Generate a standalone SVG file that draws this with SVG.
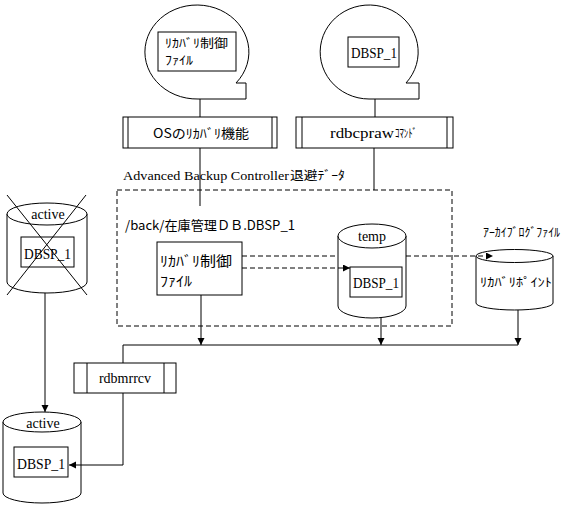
<svg xmlns="http://www.w3.org/2000/svg" width="565" height="507" viewBox="0 0 565 507">
<defs>
<marker id="ah" markerWidth="8" markerHeight="8" refX="7" refY="3.5" orient="auto" markerUnits="userSpaceOnUse">
<path d="M0,0 L7,3.5 L0,7 Z" fill="#000"/>
</marker>
</defs>
<style>
.s{fill:#fff;stroke:#000;stroke-width:1}
.l{fill:none;stroke:#000;stroke-width:1}
.d{fill:none;stroke:#000;stroke-width:1;stroke-dasharray:5,3}
.t{font-family:"Liberation Serif","Noto Sans CJK JP",serif;font-size:14px;fill:#000}
.j{font-family:"Noto Sans CJK JP","Liberation Sans",sans-serif;font-size:13px;fill:#000}
.c{text-anchor:middle}
</style>
<rect width="565" height="507" fill="#fff"/>

<g id="bubble1">
<path class="s" d="M198,99 A52,47 0 1 1 236,83 L246,83 L246,99 Z"/>
<rect class="s" x="158" y="32" width="78" height="39"/>
<text class="j" x="165" y="48" style="font-size:12px" textLength="63" lengthAdjust="spacingAndGlyphs">ﾘｶﾊﾞﾘ制御</text>
<text class="j" x="165" y="65" style="font-size:12px" textLength="28" lengthAdjust="spacingAndGlyphs">ﾌｧｲﾙ</text>
</g>

<g id="bubble2">
<path class="s" d="M369,99 A49,47 0 1 1 406,83 L419,83 L419,99 Z"/>
<rect class="s" x="348" y="37" width="51" height="30"/>
<text class="t" x="351" y="58" textLength="46" lengthAdjust="spacingAndGlyphs">DBSP_1</text>
</g>

<g id="os-recovery">
<rect class="s" x="123" y="117" width="154" height="31"/>
<line class="l" x1="128" y1="117" x2="128" y2="148"/>
<line class="l" x1="272" y1="117" x2="272" y2="148"/>
<text class="j" x="153" y="138" textLength="96" lengthAdjust="spacingAndGlyphs">OSのﾘｶﾊﾞﾘ機能</text>
</g>

<g id="rdbcpraw">
<rect class="s" x="296" y="117" width="157" height="31"/>
<line class="l" x1="302" y1="117" x2="302" y2="148"/>
<line class="l" x1="447" y1="117" x2="447" y2="148"/>
<text class="t" x="330" y="138" textLength="64" lengthAdjust="spacingAndGlyphs">rdbcpraw</text>
<text class="j" x="395" y="138" style="font-size:12px" textLength="22" lengthAdjust="spacingAndGlyphs">ｺﾏﾝﾄﾞ</text>
</g>

<g id="abc-area">
<rect class="d" x="117" y="190" width="335" height="136"/>
<text class="t" x="123" y="180" style="font-size:13px" textLength="166" lengthAdjust="spacingAndGlyphs">Advanced Backup Controller</text>
<text class="j" x="290" y="180" style="font-size:12px" textLength="55" lengthAdjust="spacingAndGlyphs">退避ﾃﾞｰﾀ</text>
<text class="j" x="125" y="230" textLength="170" lengthAdjust="spacingAndGlyphs">/back/在庫管理ＤＢ.DBSP_1</text>
</g>

<g id="control-file">
<rect class="s" x="157" y="242" width="85" height="53"/>
<text class="j" x="160" y="266" style="font-size:14px" textLength="72" lengthAdjust="spacingAndGlyphs">ﾘｶﾊﾞﾘ制御</text>
<text class="j" x="160" y="286" style="font-size:14px" textLength="32" lengthAdjust="spacingAndGlyphs">ﾌｧｲﾙ</text>
</g>

<g id="temp">
<path class="s" d="M338,236 L338,306 A34,12 0 0 0 406,306 L406,236"/>
<ellipse class="s" cx="372" cy="236" rx="34" ry="12"/>
<text class="t c" x="372" y="241">temp</text>
<rect class="s" x="350" y="267" width="52" height="30"/>
<text class="t" x="353" y="288" textLength="46" lengthAdjust="spacingAndGlyphs">DBSP_1</text>
</g>

<g id="archive-log">
<text class="j" x="483" y="237" style="font-size:12px" textLength="77" lengthAdjust="spacingAndGlyphs">ｱｰｶｲﾌﾞﾛｸﾞﾌｧｲﾙ</text>
<path class="s" d="M476,256 L476,303 A38.5,7 0 0 0 553,303 L553,256"/>
<ellipse class="s" cx="514.5" cy="256" rx="38.5" ry="6.5"/>
<text class="j" x="480" y="287" style="font-size:12px" textLength="72" lengthAdjust="spacingAndGlyphs">ﾘｶﾊﾞﾘﾎﾟｲﾝﾄ</text>
</g>

<g id="active-old">
<path class="s" d="M7,214 L7,282 A40,11 0 0 0 87,282 L87,214"/>
<ellipse class="s" cx="47" cy="214" rx="40" ry="11"/>
<text class="t c" x="48" y="219">active</text>
<rect class="s" x="21" y="237" width="53" height="30"/>
<text class="t" x="24" y="259" textLength="47" lengthAdjust="spacingAndGlyphs">DBSP_1</text>
<line class="l" x1="7" y1="195" x2="87" y2="295"/>
<line class="l" x1="86" y1="195" x2="7" y2="295"/>
</g>

<g id="rdbmrrcv">
<rect class="s" x="74" y="363" width="102" height="30"/>
<line class="l" x1="87" y1="363" x2="87" y2="393"/>
<line class="l" x1="164" y1="363" x2="164" y2="393"/>
<text class="t c" x="125" y="383">rdbmrrcv</text>
</g>

<g id="active-new">
<path class="s" d="M3,422 L3,493 A39,10 0 0 0 81,493 L81,422"/>
<ellipse class="s" cx="42" cy="422" rx="39" ry="10"/>
<text class="t c" x="43" y="428">active</text>
<rect class="s" x="14" y="447" width="54" height="30"/>
<text class="t" x="17" y="469" textLength="48" lengthAdjust="spacingAndGlyphs">DBSP_1</text>
</g>

<g id="connectors">
<line class="l" x1="200" y1="99" x2="200" y2="117"/>
<line class="l" x1="375" y1="99" x2="375" y2="117"/>
<line class="l" x1="200" y1="148" x2="200" y2="206"/>
<line class="l" x1="374" y1="148" x2="374" y2="190"/>
<line class="l" x1="201" y1="295" x2="201" y2="345" marker-end="url(#ah)"/>
<line class="l" x1="381" y1="318" x2="381" y2="345" marker-end="url(#ah)"/>
<line class="l" x1="518" y1="310" x2="518" y2="345" marker-end="url(#ah)"/>
<line class="l" x1="123" y1="345" x2="518" y2="345"/>
<line class="l" x1="123" y1="345" x2="123" y2="363"/>
<polyline class="l" points="123,393 123,465 69,465" marker-end="url(#ah)"/>
<line class="l" x1="45" y1="293" x2="45" y2="412" marker-end="url(#ah)"/>
<line class="d" x1="242" y1="256" x2="338" y2="256"/>
<line class="d" x1="406" y1="256" x2="493" y2="256" marker-end="url(#ah)"/>
<line class="d" x1="242" y1="268" x2="350" y2="268" marker-end="url(#ah)"/>
</g>
</svg>
